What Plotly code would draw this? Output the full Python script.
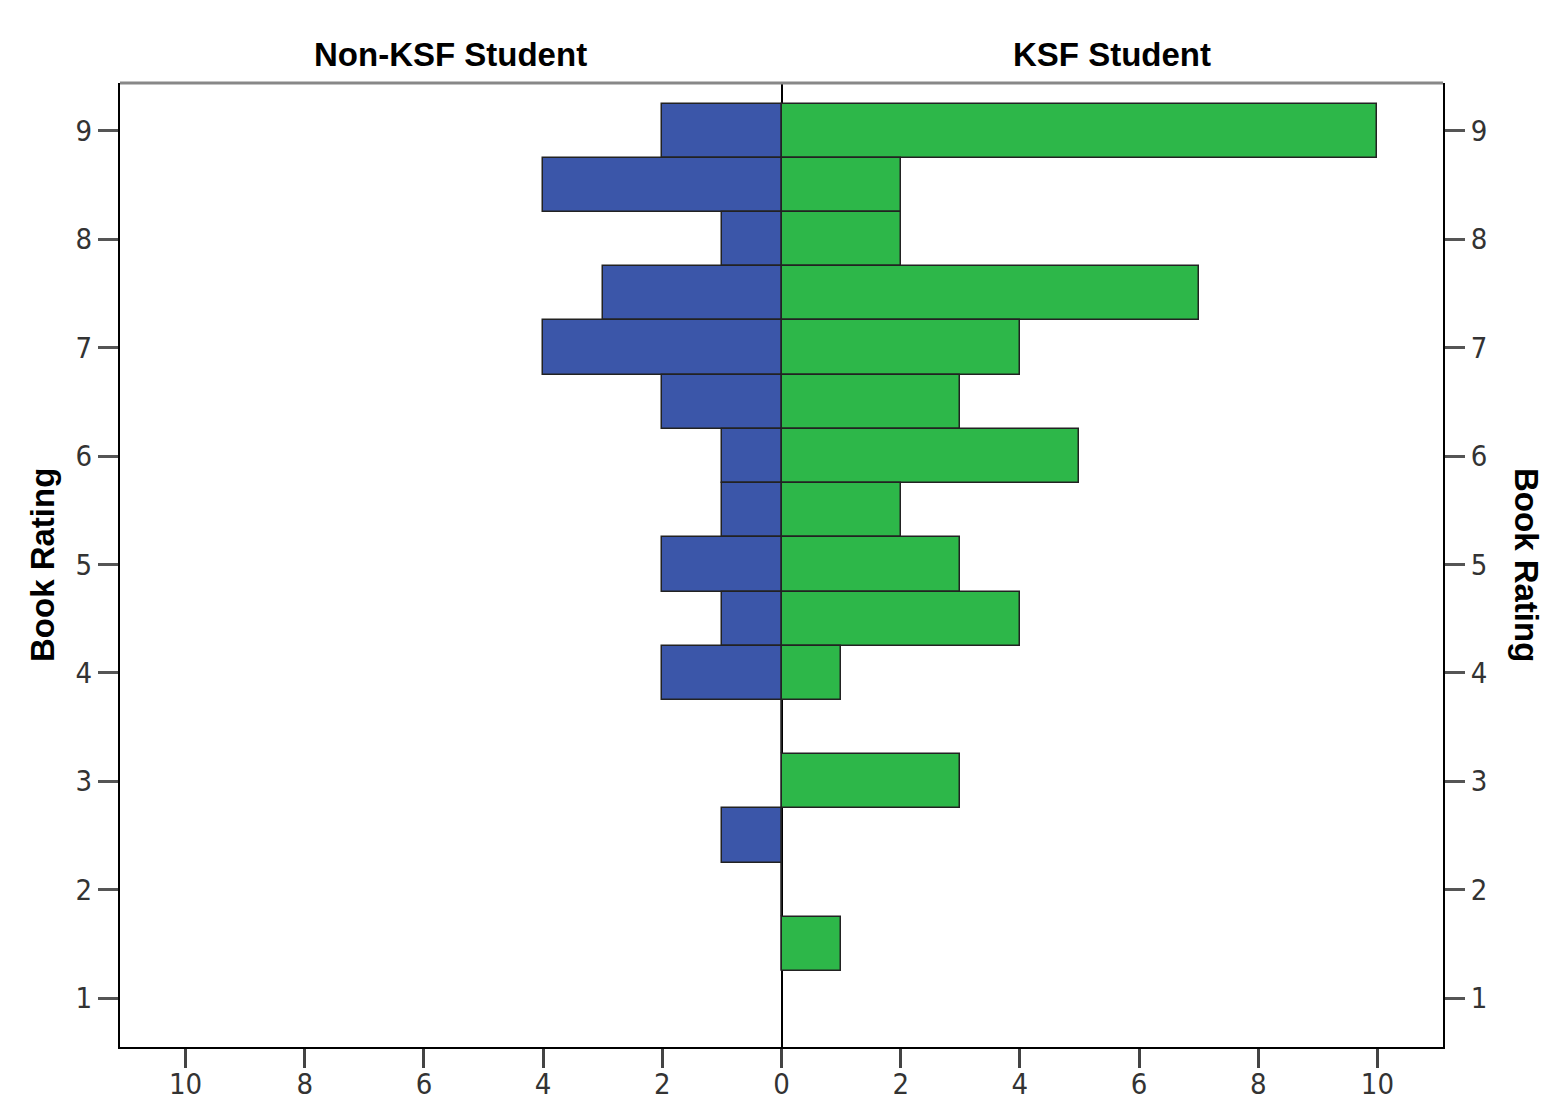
import plotly.graph_objects as go

# Bin centres of book rating (bin width 0.5)
ratings = [9.0, 8.5, 8.0, 7.5, 7.0, 6.5, 6.0, 5.5, 5.0, 4.5, 4.0, 3.5, 3.0, 2.5, 2.0, 1.5]
non_ksf = [2, 4, 1, 3, 4, 2, 1, 1, 2, 1, 2, 0, 0, 1, 0, 0]
ksf = [10, 2, 2, 7, 4, 3, 5, 2, 3, 4, 1, 0, 3, 0, 0, 1]

x_ticks = [-10, -8, -6, -4, -2, 0, 2, 4, 6, 8, 10]
x_ticktext = [str(abs(v)) for v in x_ticks]
y_ticks = [1, 2, 3, 4, 5, 6, 7, 8, 9]

blue = "#3B56A9"
green = "#2DB749"
edge = "#222222"

fig = go.Figure()
fig.add_trace(go.Bar(
    y=ratings, x=[-v for v in non_ksf], orientation="h", width=0.5,
    marker=dict(color=blue, line=dict(color=edge, width=1.5)),
    name="Non-KSF Student", showlegend=False,
))
fig.add_trace(go.Bar(
    y=ratings, x=ksf, orientation="h", width=0.5,
    marker=dict(color=green, line=dict(color=edge, width=1.5)),
    name="KSF Student", showlegend=False,
))
# invisible trace to anchor right y-axis
fig.add_trace(go.Scatter(x=[0], y=[5], yaxis="y2", mode="markers",
                         marker=dict(opacity=0), showlegend=False, hoverinfo="skip"))

yr = [0.55, 9.44]
tickfont = dict(family="DejaVu Sans Condensed, Liberation Sans Narrow, Liberation Sans, Arial",
                size=29, color="#333333")

fig.update_layout(
    width=1562, height=1098,
    margin=dict(l=112, r=127, t=75, b=59),
    paper_bgcolor="white", plot_bgcolor="white",
    barmode="overlay",
    bargap=0,
    xaxis=dict(range=[-11.1, 11.1], tickvals=x_ticks, ticktext=x_ticktext,
               showgrid=False, zeroline=True, zerolinecolor="black", zerolinewidth=1.5,
               showline=True, linecolor="black", linewidth=2, automargin=False,
               ticks="outside", ticklen=19, tickwidth=2.5, tickcolor="#444444",
               ticklabelstandoff=-9,
               tickfont=tickfont),
    yaxis=dict(range=yr, tickvals=y_ticks, showgrid=False, zeroline=False,
               showline=True, linecolor="black", linewidth=2, automargin=False,
               ticks="outside", ticklen=20, tickwidth=2.5, tickcolor="#555555",
               tickfont=tickfont),
    yaxis2=dict(range=yr, tickvals=y_ticks, overlaying="y", side="right",
                showgrid=False, zeroline=False, automargin=False,
                showline=True, linecolor="black", linewidth=2,
                ticks="outside", ticklen=20, tickwidth=2.5, tickcolor="#555555",
                tickfont=tickfont),
    font=dict(family="Liberation Sans, Arial", color="black"),
)

# top border (grey)
fig.add_shape(type="line", xref="paper", yref="paper", x0=0, x1=1, y0=1, y1=1,
              line=dict(color="#888888", width=3))

title_font = dict(family="Liberation Sans, Arial", size=33, color="black")
fig.add_annotation(text="<b>Non-KSF Student</b>", xref="x", yref="paper",
                   x=-5.55, y=1.0, yshift=29, yanchor="middle", showarrow=False, font=title_font)
fig.add_annotation(text="<b>KSF Student</b>", xref="x", yref="paper",
                   x=5.55, y=1.0, yshift=29, yanchor="middle", showarrow=False, font=title_font)
fig.add_annotation(text="<b>Book Rating</b>", xref="paper", yref="paper",
                   x=0, xshift=-78, xanchor="center", y=0.5, yanchor="middle",
                   showarrow=False, textangle=-90, font=title_font)
fig.add_annotation(text="<b>Book Rating</b>", xref="paper", yref="paper",
                   x=1, xshift=84, xanchor="center", y=0.5, yanchor="middle",
                   showarrow=False, textangle=90, font=title_font)

fig.write_html("out.html")
